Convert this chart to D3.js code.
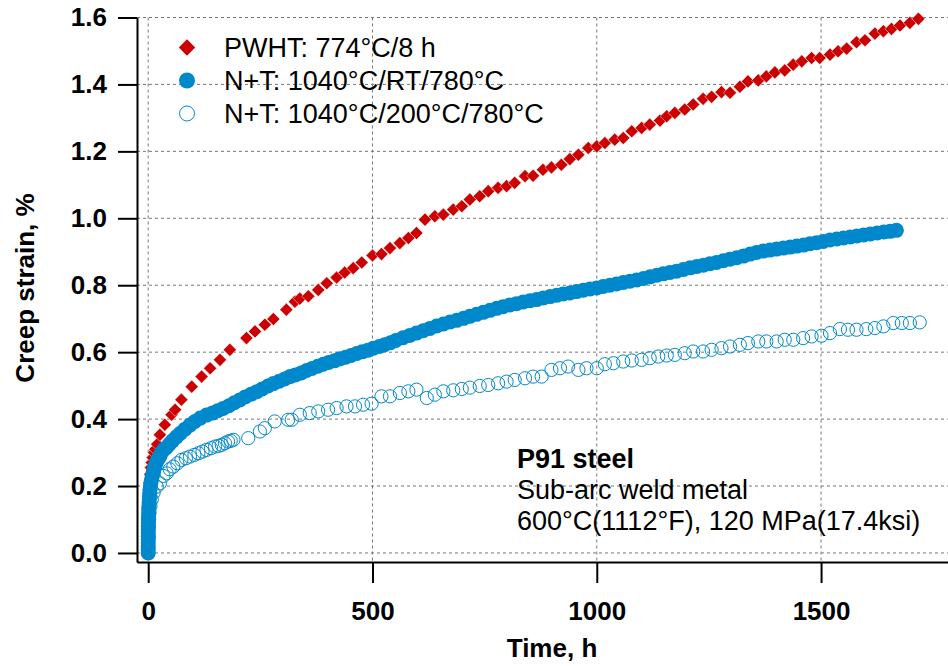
<!DOCTYPE html>
<html>
<head>
<meta charset="utf-8">
<script src="https://cdn.jsdelivr.net/npm/d3@7"></script>
<style>
  body { margin: 0; background: #fff; }
  svg { display: block; font-family: "Liberation Sans", Arial, sans-serif; }
  .axis text { font-size: 26px; font-weight: bold; fill: #000; }
  .axis path, .axis line { stroke: #000; stroke-width: 2; }
  .grid line { stroke: #777; stroke-width: 1; stroke-dasharray: 3,3; }
</style>
</head>
<body>
<div id="chart"></div>
<script>
const width = 948, height = 666;

// creep curves: [time h, strain %]
const pwht = [[0.3,0.10],[0.6,0.13],[1,0.16],[2,0.19],[3,0.21],[4.5,0.235],[6,0.255],[8,0.27],[10,0.285],[13,0.30],[16,0.31],[20,0.325],
  [26,0.353],[37,0.383],[52,0.413],[60,0.428],[74,0.458],[97,0.497],[119,0.527],[138,0.552],[160,0.577],[182,0.607],[219,0.642],
  [238,0.662],[260,0.682],[279,0.699],[308,0.727],[327,0.751],[338,0.76],[357,0.767],[379,0.786],[398,0.806],[420,0.823],[438,0.838],
  [457,0.851],[476,0.868],[500,0.889],[520,0.893],[539,0.911],[561,0.926],[580,0.941],[598,0.956],[617,0.996],[639,1.006],[658,1.011],
  [680,1.026],[699,1.036],[717,1.056],[739,1.066],[758,1.081],[780,1.091],[799,1.096],[817,1.106],[840,1.126],[858,1.127],[880,1.145],
  [899,1.152],[921,1.160],[940,1.177],[959,1.19],[981,1.21],[1000,1.215],[1018,1.225],[1040,1.235],[1059,1.24],[1078,1.26],[1100,1.27],
  [1118,1.28],[1141,1.292],[1156,1.305],[1174,1.315],[1196,1.325],[1215,1.34],[1237,1.357],[1256,1.363],[1278,1.377],[1297,1.375],
  [1319,1.393],[1337,1.409],[1360,1.412],[1378,1.424],[1397,1.436],[1419,1.442],[1438,1.459],[1457,1.469],[1479,1.479],[1497,1.479],
  [1520,1.489],[1538,1.499],[1557,1.507],[1579,1.526],[1598,1.532],[1620,1.552],[1639,1.559],[1657,1.566],[1676,1.576],[1698,1.584],
  [1717,1.596]];

const ntRT = [[0,0],[0,0.01],[0,0.02],[0.1,0.03],[0.1,0.04],[0.2,0.05],[0.2,0.06],[0.3,0.07],[0.4,0.08],[0.5,0.09],[0.6,0.10],
  [0.8,0.11],[1,0.12],[1.2,0.13],[1.5,0.14],[2,0.15],[2.5,0.16],[3,0.17],[3.5,0.18],[4,0.19],[5,0.20],[6,0.21],[7.5,0.22],[9,0.23],
  [11,0.24],[13,0.25],[15,0.26],[18,0.27],[22,0.28],[26,0.29],[30,0.30],[35,0.31],[41,0.315],[47,0.325],[54,0.335],[63,0.347],
  [72,0.358],[82,0.37],[93,0.382],[104,0.393],[116,0.403],[130,0.412],[143,0.418],[155,0.425],[167,0.432],[180,0.44],[192,0.449],
  [204,0.457],[216,0.466],[229,0.474],[242,0.482],[254,0.49],[267,0.499],[279,0.506],[292,0.513],[304,0.52],[316,0.527],[328,0.532],
  [341,0.538],[353,0.545],[365,0.551],[378,0.558],[390,0.564],[402,0.569],[415,0.574],[427,0.58],[440,0.585],[452,0.59],[465,0.596],
  [477,0.601],[490,0.606],[502,0.612],[515,0.617],[527,0.622],[540,0.628],[552,0.635],[568,0.643],[583,0.65],[598,0.657],[613,0.664],
  [628,0.671],[643,0.678],[658,0.684],[673,0.69],[688,0.695],[703,0.701],[717,0.707],[732,0.713],[747,0.719],[762,0.725],[777,0.731],
  [791,0.736],[806,0.741],[821,0.745],[836,0.75],[851,0.754],[866,0.757],[881,0.762],[896,0.766],[911,0.77],[925,0.774],[940,0.777],
  [955,0.781],[970,0.785],[985,0.789],[1000,0.792],[1014,0.796],[1029,0.8],[1044,0.804],[1059,0.808],[1074,0.812],[1089,0.816],
  [1104,0.82],[1119,0.825],[1134,0.83],[1148,0.834],[1163,0.838],[1178,0.842],[1193,0.847],[1208,0.852],[1223,0.856],[1238,0.86],
  [1252,0.864],[1267,0.868],[1282,0.873],[1297,0.878],[1312,0.882],[1327,0.887],[1342,0.893],[1356,0.898],[1371,0.902],[1386,0.905],
  [1401,0.908],[1416,0.911],[1431,0.914],[1446,0.917],[1461,0.92],[1475,0.924],[1490,0.927],[1505,0.931],[1520,0.935],[1535,0.938],
  [1550,0.941],[1565,0.944],[1580,0.947],[1595,0.95],[1610,0.953],[1625,0.956],[1640,0.959],[1654,0.961],[1668,0.964]];

const nt200 = [[0,0],[0.5,0.05],[1,0.08],[2,0.10],[3,0.12],[5,0.14],[8,0.16],[12,0.18],[19,0.198],[26,0.208],[34,0.23],[41,0.238],
  [48,0.25],[56,0.258],[65,0.268],[74,0.278],[84,0.283],[93,0.288],[103,0.293],[112,0.298],[121,0.303],[130,0.308],[140,0.313],
  [149,0.318],[157,0.32],[164,0.323],[171,0.328],[178,0.333],[184,0.335],[190,0.338],[223,0.343],[249,0.363],[260,0.373],[282,0.393],
  [312,0.398],[320,0.398],[338,0.413],[360,0.418],[379,0.423],[401,0.428],[420,0.433],[442,0.438],[461,0.438],[479,0.443],[498,0.446],
  [520,0.468],[539,0.468],[561,0.478],[580,0.483],[598,0.488],[621,0.463],[639,0.473],[658,0.483],[680,0.486],[699,0.49],[717,0.494],
  [739,0.499],[758,0.502],[780,0.507],[799,0.512],[817,0.517],[840,0.522],[858,0.527],[877,0.527],[899,0.547],[918,0.552],[936,0.557],
  [959,0.547],[977,0.552],[1000,0.552],[1018,0.564],[1037,0.567],[1059,0.572],[1078,0.575],[1100,0.577],[1118,0.582],[1137,0.587],
  [1156,0.59],[1174,0.592],[1196,0.597],[1215,0.602],[1237,0.602],[1256,0.607],[1278,0.612],[1297,0.617],[1319,0.622],[1337,0.627],
  [1360,0.632],[1378,0.632],[1401,0.632],[1419,0.637],[1438,0.637],[1460,0.642],[1479,0.647],[1501,0.649],[1520,0.657],[1542,0.669],
  [1560,0.667],[1579,0.667],[1601,0.669],[1620,0.672],[1639,0.677],[1661,0.687],[1680,0.687],[1698,0.687],[1720,0.689]];

const xTicks = [0, 500, 1000, 1500];
const yTicks = [0, 0.2, 0.4, 0.6, 0.8, 1.0, 1.2, 1.4, 1.6];
const legendLabels = ["PWHT: 774°C/8 h", "N+T: 1040°C/RT/780°C", "N+T: 1040°C/200°C/780°C"];
const noteLines = ["P91 steel", "Sub-arc weld metal", "600°C(1112°F), 120 MPa(17.4ksi)"];

const red = "#cc0000", blue = "#0088cc";

const svg = d3.select("#chart").append("svg")
  .attr("width", width)
  .attr("height", height);

const x = d3.scaleLinear().domain([-25, 1783]).range([137, 948]);
const y = d3.scaleLinear().domain([-0.027, 1.6]).range([562, 17.5]);

// grid
const grid = svg.append("g").attr("class", "grid");
grid.selectAll(".h").data(yTicks).join("line")
  .attr("x1", 137).attr("x2", width)
  .attr("y1", d => y(d)).attr("y2", d => y(d));
grid.selectAll(".v").data(xTicks).join("line")
  .attr("x1", d => x(d)).attr("x2", d => x(d))
  .attr("y1", y(1.6)).attr("y2", 562);

// axes
svg.append("g")
  .attr("class", "axis")
  .attr("transform", "translate(0,562)")
  .call(d3.axisBottom(x).tickValues(xTicks).tickFormat(d3.format("d")).tickSize(21).tickSizeOuter(0).tickPadding(18.5));

svg.append("g")
  .attr("class", "axis")
  .attr("transform", "translate(137,0)")
  .call(d3.axisLeft(y).tickValues(yTicks).tickFormat(d3.format(".1f")).tickSize(19).tickSizeOuter(0).tickPadding(11));

// markers
const diamond = d3.symbol().type(d3.symbolDiamond2).size(110);

svg.append("g").selectAll("path")
  .data(pwht)
  .join("path")
  .attr("d", diamond)
  .attr("transform", d => `translate(${x(d[0])},${y(d[1])})`)
  .attr("fill", red)
  .attr("stroke", "#fff")
  .attr("stroke-width", 0.5);

svg.append("g").selectAll("circle")
  .data(ntRT)
  .join("circle")
  .attr("cx", d => x(d[0]))
  .attr("cy", d => y(d[1]))
  .attr("r", 7.5)
  .attr("fill", blue);

svg.append("g").selectAll("circle")
  .data(nt200)
  .join("circle")
  .attr("cx", d => x(d[0]))
  .attr("cy", d => y(d[1]))
  .attr("r", 6.6)
  .attr("fill", "none")
  .attr("stroke", blue)
  .attr("stroke-width", 1);

// axis titles
svg.append("text")
  .attr("x", 552)
  .attr("y", 657)
  .style("text-anchor", "middle")
  .style("font-size", "26px")
  .style("font-weight", "bold")
  .text("Time, h");

svg.append("text")
  .attr("transform", "translate(34,288) rotate(-90)")
  .style("text-anchor", "middle")
  .style("font-size", "26px")
  .style("font-weight", "bold")
  .text("Creep strain, %");

// legend
const legend = svg.append("g")
  .selectAll("g")
  .data(legendLabels)
  .join("g")
  .attr("transform", (d, i) => `translate(187, ${47.5 + i * 33})`);

legend.each(function(d, i) {
  const g = d3.select(this);
  if (i === 0) {
    g.append("rect").attr("x", -5.8).attr("y", -5.8).attr("width", 11.6).attr("height", 11.6)
      .attr("transform", "rotate(45)").attr("fill", red);
  } else if (i === 1) {
    g.append("circle").attr("r", 8).attr("fill", blue);
  } else {
    g.append("circle").attr("r", 7.5).attr("fill", "none").attr("stroke", blue).attr("stroke-width", 1);
  }
});

legend.append("text")
  .attr("x", 37)
  .attr("dy", "0.35em")
  .style("font-size", "27px")
  .text(d => d);

// annotation
svg.append("g").selectAll("text")
  .data(noteLines)
  .join("text")
  .attr("x", 517)
  .attr("y", (d, i) => 468 + i * 31)
  .style("font-size", "27px")
  .style("font-weight", (d, i) => i === 0 ? "bold" : "normal")
  .text(d => d);
</script>
</body>
</html>
